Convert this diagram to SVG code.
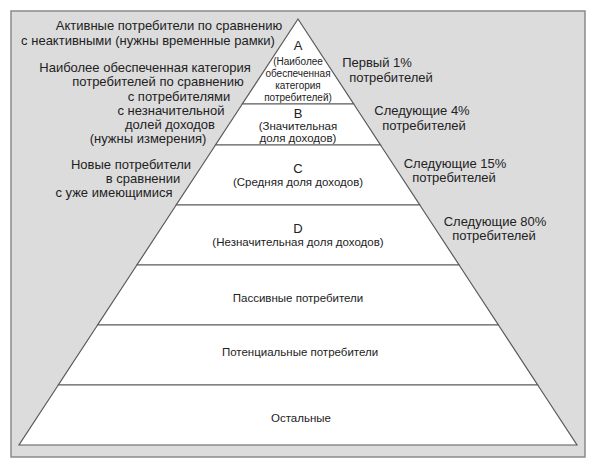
<svg xmlns="http://www.w3.org/2000/svg" width="600" height="472" viewBox="0 0 600 472">
<style>
.frame{fill:#dcdcdc;stroke:#8a8a8a;stroke-width:1.5}
.layer{fill:#ffffff;stroke:#5a5a5a;stroke-width:1.2}
text{font-family:"Liberation Sans",Arial,sans-serif;fill:#222;text-anchor:middle}
.side{font-size:13px}
.big{font-size:13px}
.mid{font-size:11.5px}
.small{font-size:10px}
</style>
<rect class="frame" x="11" y="11" width="574" height="446"/>
<g id="layer-A">
<polygon class="layer" points="298,19 353.7,104 242.3,104"/>
<text class="big" x="298" y="50">A</text>
<text class="small" x="298" y="65">(Наиболее</text>
<text class="small" x="298" y="77">обеспеченная</text>
<text class="small" x="298" y="89">категория</text>
<text class="small" x="298" y="101">потребителей)</text>
</g>
<g id="layer-B">
<polygon class="layer" points="242.3,104 353.7,104 380.5,145 215.5,145"/>
<text class="big" x="298" y="118">B</text>
<text class="mid" x="298" y="130">(Значительная</text>
<text class="mid" x="298" y="142">доля доходов)</text>
</g>
<g id="layer-C">
<polygon class="layer" points="215.5,145 380.5,145 419.8,205 176.2,205"/>
<text class="big" x="298" y="173">C</text>
<text class="mid" x="298" y="186">(Средняя доля доходов)</text>
</g>
<g id="layer-D">
<polygon class="layer" points="176.2,205 419.8,205 459.1,265 136.9,265"/>
<text class="big" x="298" y="233">D</text>
<text class="mid" x="298" y="246">(Незначительная доля доходов)</text>
</g>
<g id="layer-passive">
<polygon class="layer" points="136.9,265 459.1,265 498.4,325 97.6,325"/>
<text class="mid" x="298" y="302">Пассивные потребители</text>
</g>
<g id="layer-potential">
<polygon class="layer" points="97.6,325 498.4,325 537.7,385 58.3,385"/>
<text class="mid" x="300" y="356">Потенциальные потребители</text>
</g>
<g id="layer-rest">
<polygon class="layer" points="58.3,385 537.7,385 577,445 19,445"/>
<text class="mid" x="301" y="422">Остальные</text>
</g>
<g id="left-labels" class="side">
<text class="side" x="169" y="30">Активные потребители по сравнению</text>
<text class="side" x="148" y="45">с неактивными (нужны временные рамки)</text>
<text class="side" x="145" y="72">Наиболее обеспеченная категория</text>
<text class="side" x="158" y="86">потребителей по сравнению</text>
<text class="side" x="179" y="101">с потребителями</text>
<text class="side" x="171" y="115">с незначительной</text>
<text class="side" x="170" y="129">долей доходов</text>
<text class="side" x="148" y="143">(нужны измерения)</text>
<text class="side" x="131" y="169">Новые потребители</text>
<text class="side" x="143" y="183">в сравнении</text>
<text class="side" x="114" y="197">с уже имеющимися</text>
</g>
<g id="right-labels">
<text class="side" x="377" y="67">Первый 1%</text>
<text class="side" x="391" y="82">потребителей</text>
<text class="side" x="422" y="115">Следующие 4%</text>
<text class="side" x="424" y="130">потребителей</text>
<text class="side" x="455" y="168">Следующие 15%</text>
<text class="side" x="454" y="182">потребителей</text>
<text class="side" x="495" y="226">Следующие 80%</text>
<text class="side" x="494" y="240">потребителей</text>
</g>
</svg>
